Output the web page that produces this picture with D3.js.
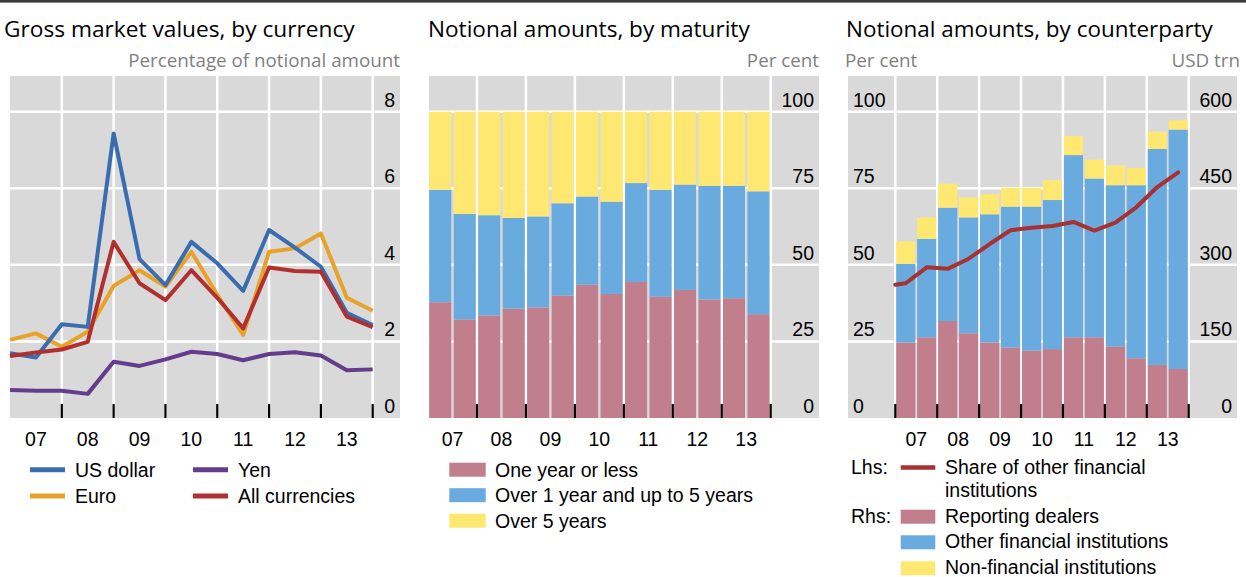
<!DOCTYPE html>
<html><head><meta charset="utf-8">
<script src="https://cdn.jsdelivr.net/npm/d3@7"></script>
<style>
body{margin:0;background:#fff;}
svg{display:block;}
</style></head><body>
<svg id="c" width="1246" height="577"></svg>
<script>
// ---------------- DATA ----------------
const yearLabels = ["07","08","09","10","11","12","13"];
const yearStarts = [2007,2008,2009,2010,2011,2012,2013];

// Panel 1: gross market values, % of notional (semi-annual, end-2006 .. end-2013)
const p1Times = [2007,2007.5,2008,2008.5,2009,2009.5,2010,2010.5,2011,2011.5,2012,2012.5,2013,2013.5,2014];
const usDollar      = [1.69,1.58,2.45,2.38,7.43,4.15,3.47,4.60,4.04,3.32,4.91,4.45,3.95,2.75,2.43];
const euro          = [2.04,2.21,1.86,2.25,3.45,3.86,3.43,4.34,3.22,2.17,4.34,4.43,4.82,3.14,2.80];
const yen           = [0.73,0.71,0.71,0.63,1.47,1.36,1.53,1.73,1.67,1.51,1.67,1.72,1.63,1.25,1.27];
const allCurrencies = [1.62,1.71,1.79,1.99,4.60,3.52,3.08,3.86,3.14,2.34,3.93,3.84,3.82,2.65,2.37];
const p1Ticks = [0,2,4,6,8];

// Panel 2: notional amounts by maturity, per cent (half-years H1 2007 .. H2 2013)
const halfYears = [2007,2007.5,2008,2008.5,2009,2009.5,2010,2010.5,2011,2011.5,2012,2012.5,2013,2013.5];
const oneYearOrLess = [37.8,32.2,33.5,35.7,36.1,40.0,43.5,40.5,44.4,39.6,41.8,38.7,39.1,33.9];
const over1to5Years = [36.7,34.4,32.7,29.6,29.7,30.1,28.8,30.1,32.3,34.9,34.4,37.1,36.7,40.1];
const over5Years    = [25.5,33.4,33.8,34.7,34.2,29.9,27.7,29.4,23.3,25.5,23.8,24.2,24.2,26.0];
const p2Ticks = [0,25,50,75,100];

// Panel 3: notional amounts by counterparty, USD trn (rhs) and share in per cent (lhs)
const reportingDealers = [148,158,190,166,148,138,132,135,158,158,140,117,104,96];
const otherFinancial   = [154,193,222,227,251,276,282,292,357,311,316,339,423,469];
const nonFinancial     = [44,42,47,39,39,37,37,39,37,37,39,34,34,18];
const shareTimes = [2007,2007.25,2007.75,2008.25,2008.75,2009.25,2009.75,2010.25,2010.75,2011.25,2011.75,2012.25,2012.75,2013.25,2013.75];
const shareOtherFin = [43.5,44.0,49.2,48.7,52.0,56.8,61.3,62.1,62.7,64.0,61.2,63.8,68.8,75.4,80.2];
const p3LeftTicks = [0,25,50,75,100];
const p3RightTicks = [0,150,300,450,600];

// ---------------- STYLE ----------------
const C = {
  bg:"#d9d9d9", grid:"#ffffff", tick:"#000000", text:"#000000", sub:"#7f7f7f",
  usd:"#3a6db0", eur:"#e9a229", yen:"#653c8b", all:"#b1302f",
  pink:"#c17f8e", blue:"#6aabdf", yellow:"#fee872", share:"#a83232"
};
const LABEL_FONT = "'Liberation Sans', Arial, sans-serif";
const TITLE_FONT = "'Open Sans', 'Noto Sans', sans-serif";
const FS = 19.5;
const TOP = 76, BOTTOM = 418, PLOT_TOP = 111.7;

const svg = d3.select("#c");
svg.append("rect").attr("x",0).attr("y",0).attr("width",1246).attr("height",2.6).attr("fill","#3a3a3a");

function fitText(sel, target){
  const w = sel.node().getComputedTextLength();
  const fs = parseFloat(sel.attr("font-size"));
  sel.attr("font-size", fs*target/w);
  return fs*target/w;
}

function frame(g, o){
  g.append("rect").attr("x",o.bg0).attr("y",TOP).attr("width",o.bg1-o.bg0).attr("height",BOTTOM-TOP).attr("fill",C.bg);
  // horizontal grid
  g.selectAll(".hg").data(o.yTicks.filter(d=>d!==0)).join("line")
    .attr("x1",o.bg0).attr("x2",o.bg1).attr("y1",d=>o.y(d)).attr("y2",d=>o.y(d))
    .attr("stroke",C.grid).attr("stroke-width",2.5);
  // vertical grid at year boundaries
  g.selectAll(".vg").data(o.vLines).join("line")
    .attr("x1",d=>o.x(d)).attr("x2",d=>o.x(d)).attr("y1",TOP).attr("y2",BOTTOM)
    .attr("stroke",C.grid).attr("stroke-width",2.5);
}
function ticksAndYears(g, o){
  g.selectAll(".tk").data(o.tickLines).join("line")
    .attr("x1",d=>o.x(d)).attr("x2",d=>o.x(d)).attr("y1",BOTTOM-14).attr("y2",BOTTOM)
    .attr("stroke",C.tick).attr("stroke-width",2.2);
  g.selectAll(".yr").data(yearStarts).join("text")
    .attr("x",d=>o.x(d+0.5)).attr("y",446).attr("text-anchor","middle")
    .attr("font-family",LABEL_FONT).attr("font-size",FS).attr("fill",C.text)
    .text((d,i)=>yearLabels[i]);
}
function yLabels(g, y, ticks, x, anchor, fmt){
  g.selectAll(null).data(ticks).join("text")
    .attr("x",x).attr("y",d=>y(d)-5).attr("text-anchor",anchor)
    .attr("font-family",LABEL_FONT).attr("font-size",FS).attr("fill",C.text)
    .text(d=>fmt?fmt(d):d);
}
function title(x, txt, target){
  const t = svg.append("text").attr("x",x).attr("y",36.5).attr("font-family",TITLE_FONT)
    .attr("font-size",21).attr("fill","#000").text(txt);
  fitText(t,target);
}
function legendText(g,x,y,txt){
  g.append("text").attr("x",x).attr("y",y).attr("font-family",LABEL_FONT).attr("font-size",FS)
    .attr("fill",C.text).text(txt);
}

// ---------------- TITLES ----------------
title(4,"Gross market values, by currency",351);
title(428,"Notional amounts, by maturity",322);
title(846,"Notional amounts, by counterparty",367);
const sub1 = svg.append("text").attr("x",400).attr("y",66.5).attr("text-anchor","end")
  .attr("font-family",TITLE_FONT).attr("font-size",17).attr("fill",C.sub).text("Percentage of notional amount");
const subFS = fitText(sub1,272);
svg.append("text").attr("x",819).attr("y",66.5).attr("text-anchor","end").attr("font-family",TITLE_FONT)
  .attr("font-size",subFS).attr("fill",C.sub).text("Per cent");
svg.append("text").attr("x",845).attr("y",66.5).attr("font-family",TITLE_FONT)
  .attr("font-size",subFS).attr("fill",C.sub).text("Per cent");
svg.append("text").attr("x",1240).attr("y",66.5).attr("text-anchor","end").attr("font-family",TITLE_FONT)
  .attr("font-size",subFS).attr("fill",C.sub).text("USD trn");

// ---------------- PANEL 1 ----------------
{
  const g = svg.append("g");
  const x = d3.scaleLinear().domain([2007,2014]).range([10,372.7]);
  const y = d3.scaleLinear().domain([0,8]).range([BOTTOM,PLOT_TOP]);
  const bounds = yearStarts.map(d=>d+1);
  frame(g,{bg0:10,bg1:400,x,y,yTicks:p1Ticks,vLines:bounds});
  ticksAndYears(g,{x,tickLines:bounds});
  yLabels(g,y,p1Ticks,395,"end");
  const series = [
    {name:"Yen",vals:yen,color:C.yen},
    {name:"Euro",vals:euro,color:C.eur},
    {name:"US dollar",vals:usDollar,color:C.usd},
    {name:"All currencies",vals:allCurrencies,color:C.all}
  ];
  const line = d3.line().x((d,i)=>x(p1Times[i])).y(d=>y(d));
  g.selectAll(".ln").data(series).join("path")
    .attr("d",d=>line(d.vals)).attr("fill","none").attr("stroke",d=>d.color)
    .attr("stroke-width",4).attr("stroke-linejoin","round");
  const leg = [
    {name:"US dollar",color:C.usd,x:30,y:476.7},
    {name:"Yen",color:C.yen,x:193,y:476.7},
    {name:"Euro",color:C.eur,x:30,y:503},
    {name:"All currencies",color:C.all,x:193,y:503}
  ];
  leg.forEach(l=>{
    g.append("line").attr("x1",l.x).attr("x2",l.x+35).attr("y1",l.y-7).attr("y2",l.y-7)
      .attr("stroke",l.color).attr("stroke-width",5);
    legendText(g,l.x+45,l.y,l.name);
  });
}

// ---------------- PANEL 2 ----------------
{
  const g = svg.append("g");
  const x = d3.scaleLinear().domain([2007,2014]).range([428,770.7]);
  const y = d3.scaleLinear().domain([0,100]).range([BOTTOM,PLOT_TOP]);
  const bounds = yearStarts.map(d=>d+1);
  frame(g,{bg0:429,bg1:819,x,y,yTicks:p2Ticks,vLines:bounds});
  const keys = ["one","mid","long"];
  const rows = halfYears.map((t,i)=>({t,one:oneYearOrLess[i],mid:over1to5Years[i],long:over5Years[i]}));
  const stack = d3.stack().keys(keys)(rows);
  const col = {one:C.pink,mid:C.blue,long:C.yellow};
  const inset = 1.2;
  g.selectAll(".s").data(stack).join("g").attr("fill",d=>col[d.key])
    .selectAll("rect").data(d=>d).join("rect")
    .attr("x",d=>x(d.data.t)+inset).attr("width",d=>x(d.data.t+0.5)-x(d.data.t)-2*inset)
    .attr("y",d=>y(d[1])).attr("height",d=>y(d[0])-y(d[1]));
  ticksAndYears(g,{x,tickLines:bounds});
  yLabels(g,y,p2Ticks,814,"end");
  const leg = [
    {name:"One year or less",color:C.pink,y:476.7},
    {name:"Over 1 year and up to 5 years",color:C.blue,y:502.2},
    {name:"Over 5 years",color:C.yellow,y:527.7}
  ];
  leg.forEach(l=>{
    g.append("rect").attr("x",449.3).attr("y",l.y-14).attr("width",36.4).attr("height",14).attr("fill",l.color);
    legendText(g,495,l.y,l.name);
  });
}

// ---------------- PANEL 3 ----------------
{
  const g = svg.append("g");
  const x = d3.scaleLinear().domain([2007,2014]).range([895.3,1188.7]);
  const yL = d3.scaleLinear().domain([0,100]).range([BOTTOM,PLOT_TOP]);
  const yR = d3.scaleLinear().domain([0,600]).range([BOTTOM,PLOT_TOP]);
  const bounds = [2007].concat(yearStarts.map(d=>d+1));
  frame(g,{bg0:848,bg1:1237,x,y:yL,yTicks:p3LeftTicks,vLines:bounds});
  const keys = ["dealers","other","nonfin"];
  const rows = halfYears.map((t,i)=>({t,dealers:reportingDealers[i],other:otherFinancial[i],nonfin:nonFinancial[i]}));
  const stack = d3.stack().keys(keys)(rows);
  const col = {dealers:C.pink,other:C.blue,nonfin:C.yellow};
  const inset = 0.9;
  g.selectAll(".s").data(stack).join("g").attr("fill",d=>col[d.key])
    .selectAll("rect").data(d=>d).join("rect")
    .attr("x",d=>x(d.data.t)+inset).attr("width",d=>x(d.data.t+0.5)-x(d.data.t)-2*inset)
    .attr("y",d=>yR(d[1])).attr("height",d=>yR(d[0])-yR(d[1]));
  ticksAndYears(g,{x,tickLines:bounds});
  yLabels(g,yL,p3LeftTicks,853,"start");
  yLabels(g,yR,p3RightTicks,1232,"end");
  const line = d3.line().x((d,i)=>x(shareTimes[i])).y(d=>yL(d));
  g.append("path").attr("d",line(shareOtherFin)).attr("fill","none").attr("stroke",C.share)
    .attr("stroke-width",4).attr("stroke-linejoin","round").attr("stroke-linecap","round");
  // legend
  legendText(g,851,474.3,"Lhs:");
  legendText(g,851,522.7,"Rhs:");
  g.append("line").attr("x1",900.7).attr("x2",935.3).attr("y1",467.5).attr("y2",467.5)
    .attr("stroke",C.share).attr("stroke-width",4.5);
  legendText(g,945,474.3,"Share of other financial");
  legendText(g,945,496.7,"institutions");
  const leg = [
    {name:"Reporting dealers",color:C.pink,y:522.7},
    {name:"Other financial institutions",color:C.blue,y:548.3},
    {name:"Non-financial institutions",color:C.yellow,y:574.3}
  ];
  leg.forEach(l=>{
    g.append("rect").attr("x",900.7).attr("y",l.y-13).attr("width",34.6).attr("height",14).attr("fill",l.color);
    legendText(g,945,l.y,l.name);
  });
}
</script>
</body></html>
